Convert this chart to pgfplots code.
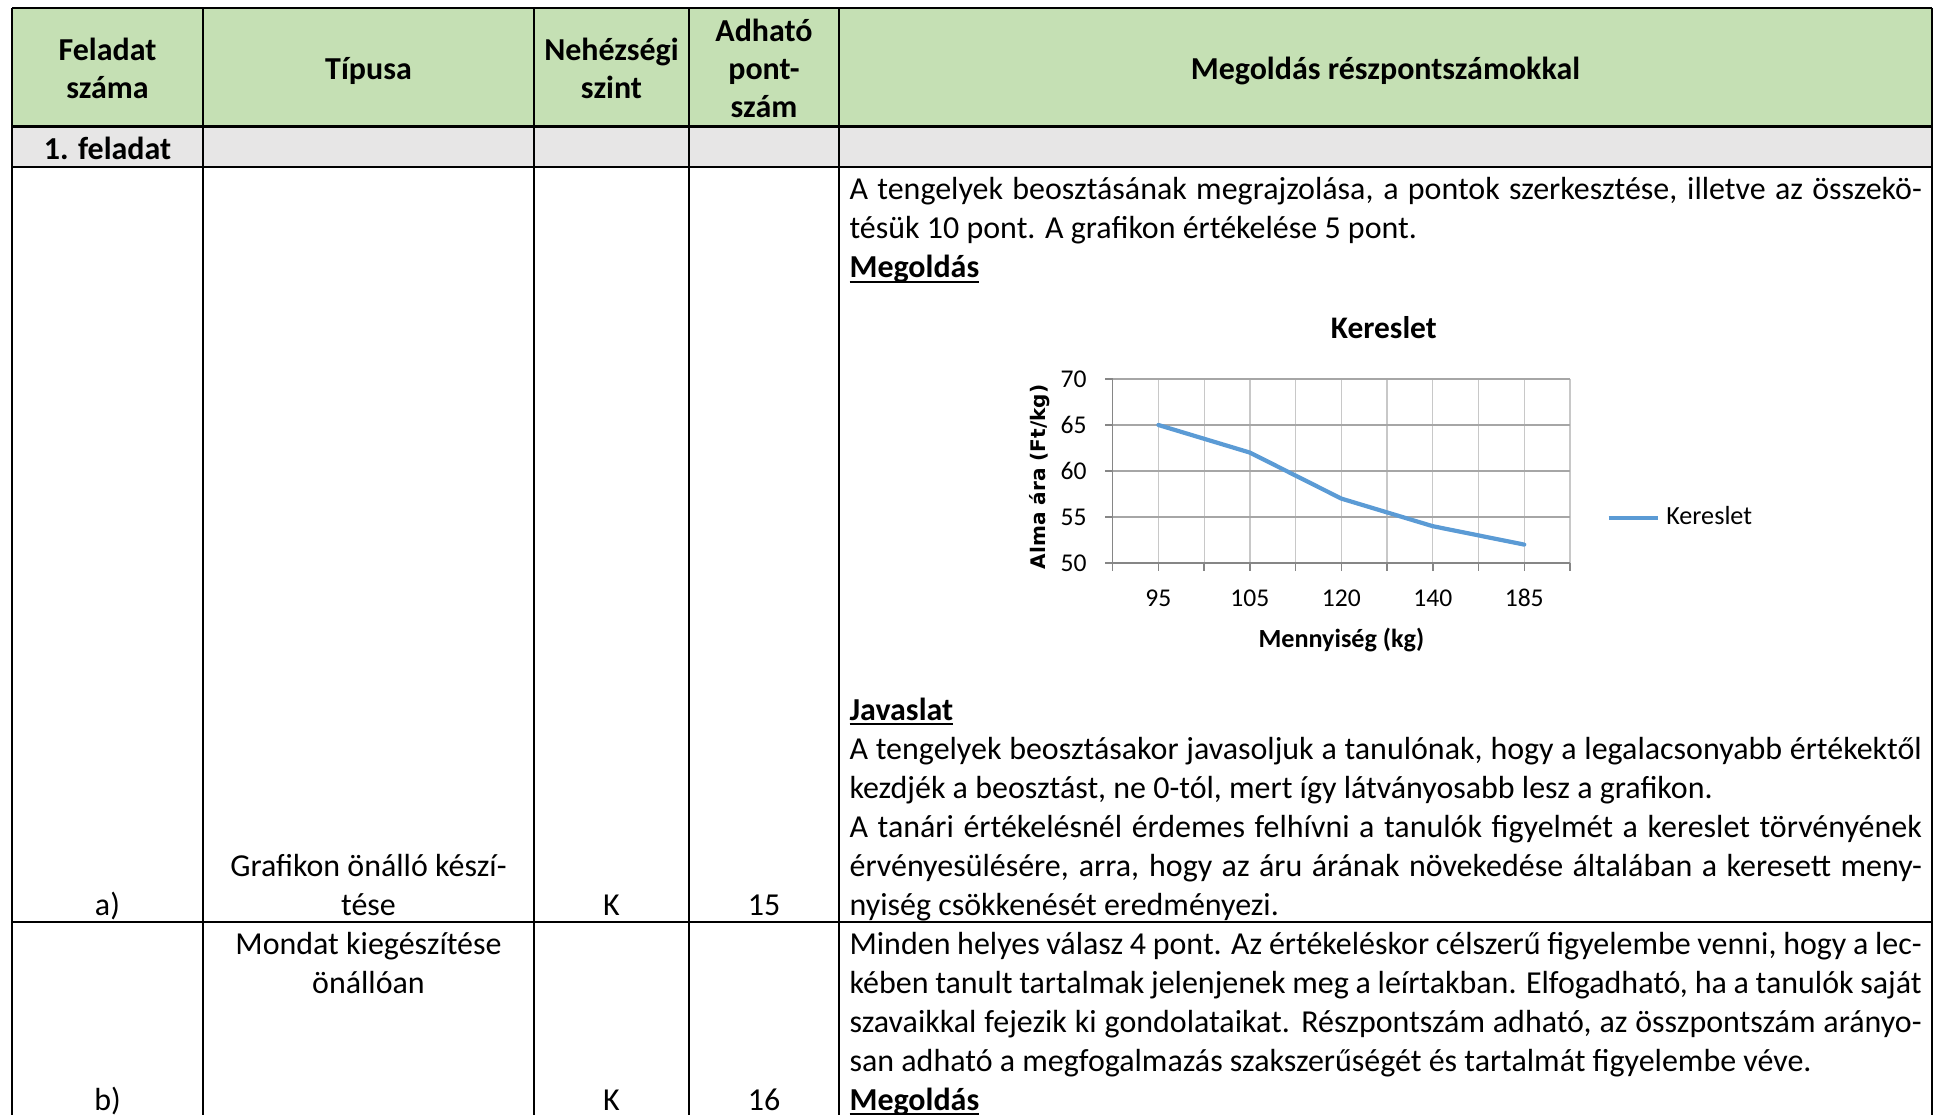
\documentclass[border=0pt]{standalone}
\usepackage{pgfplots}
\pgfplotsset{compat=1.18}
\usepackage{fontspec}
\setmainfont{Carlito}
\newfontfamily\dejavu{DejaVu Sans}
\definecolor{hdr}{HTML}{C5E0B4}
\definecolor{grayrow}{HTML}{E7E6E6}
\definecolor{xlblue}{HTML}{5B9BD5}
\definecolor{gridh}{HTML}{A6A6A6}
\definecolor{gridv}{HTML}{C8C8C8}
\definecolor{axgray}{HTML}{868686}
\newcommand{\jline}[2]{\node[anchor=base west,inner sep=0pt] at (849,#1+4) {\makebox[368.8pt][s]{#2}};}
\newcommand{\lline}[2]{\node[anchor=base west,inner sep=0pt] at (849,#1+4) {#2};}
\newcommand{\ctext}[3]{\node[anchor=base,inner sep=0pt] at (#1,#2+4) {#3};}
\newsavebox\ubox
\newcommand{\ub}[1]{\sbox\ubox{\textbf{#1}}\usebox\ubox\llap{\rule[-1.7pt]{\wd\ubox}{0.7pt}}}
\begin{document}
\fontsize{11pt}{13.4pt}\selectfont
\begin{tikzpicture}
\begin{scope}[x=0.344pt,y=-0.344pt]
\useasboundingbox (0,0) rectangle (1940,1115);
% fills
\fill[hdr] (12,8) rectangle (1932,126.5);
\fill[grayrow] (12,126.5) rectangle (1932,167);
% rules
\draw[line width=0.8pt] (12,8) -- (1932,8);
\draw[line width=0.8pt] (12,126.5) -- (1932,126.5);
\draw[line width=0.8pt] (12,167) -- (1932,167);
\draw[line width=0.8pt] (12,922) -- (1932,922);
\foreach \xx in {12,203,534,689,839,1932}{
  \draw[line width=0.7pt] (\xx,8) -- (\xx,1115);
}
% header
\ctext{107.5}{57}{\textbf{Feladat}}
\ctext{107.5}{95}{\textbf{száma}}
\ctext{368.5}{76}{\textbf{Típusa}}
\ctext{611.5}{57}{\textbf{Nehézségi}}
\ctext{611.5}{95}{\textbf{szint}}
\ctext{764}{38}{\textbf{Adható}}
\ctext{764}{76}{\textbf{pont-}}
\ctext{764}{114}{\textbf{szám}}
\ctext{1385.5}{76}{\textbf{Megoldás részpontszámokkal}}
\ctext{107.5}{156}{\textbf{1. feladat}}
% row a
\ctext{368.5}{872}{Grafikon önálló készí-}
\ctext{368.5}{911}{tése}
\ctext{107.5}{911}{a)}
\ctext{611.5}{911}{K}
\ctext{764}{911}{15}
\jline{196}{A tengelyek beosztásának megrajzolása, a pontok szerkesztése, illetve az összekö-}
\lline{235}{tésük 10 pont. A grafikon értékelése 5 pont.}
\lline{274}{\ub{Megoldás}}
\lline{716}{\ub{Javaslat}}
\jline{755}{A tengelyek beosztásakor javasoljuk a tanulónak, hogy a legalacsonyabb értékektől}
\lline{794}{kezdjék a beosztást, ne 0-tól, mert így látványosabb lesz a grafikon.}
\jline{833}{A tanári értékelésnél érdemes felhívni a tanulók figyelmét a kereslet törvényének}
\jline{872}{érvényesülésére, arra, hogy az áru árának növekedése általában a keresett meny-}
\lline{911}{nyiség csökkenését eredményezi.}
% row b
\ctext{368.5}{950}{Mondat kiegészítése}
\ctext{368.5}{989}{önállóan}
\ctext{107.5}{1106}{b)}
\ctext{611.5}{1106}{K}
\ctext{764}{1106}{16}
\jline{950}{Minden helyes válasz 4 pont. Az értékeléskor célszerű figyelembe venni, hogy a lec-}
\jline{989}{kében tanult tartalmak jelenjenek meg a leírtakban. Elfogadható, ha a tanulók saját}
\jline{1028}{szavaikkal fejezik ki gondolataikat. Részpontszám adható, az összpontszám arányo-}
\lline{1067}{san adható a megfogalmazás szakszerűségét és tartalmát figyelembe véve.}
\lline{1106}{\ub{Megoldás}}
\coordinate (po) at (1112.7,563);
\end{scope}
\begin{axis}[
  at={(po)}, anchor=south west,
  scale only axis, width=157.3pt, height=63.3pt,
  xmin=0.5, xmax=5.5, ymin=50, ymax=70,
  xtick={0.5,1,1.5,2,2.5,3,3.5,4,4.5,5,5.5},
  xticklabels={{},95,{},105,{},120,{},140,{},185,{}},
  ytick={50,55,60,65,70},
  axis lines*=left,
  axis line style={axgray, line width=0.5pt},
  xmajorgrids, ymajorgrids,
  x grid style={gridv, line width=0.45pt},
  y grid style={gridh, line width=0.45pt},
  tick align=outside,
  major tick length=2.6pt,
  tick style={axgray, line width=0.5pt},
  /pgf/number format/assume math mode=true,
  tick label style={font=\fontsize{8.8pt}{10pt}\selectfont, inner sep=0pt},
  xticklabel style={anchor=base, yshift=-12.5pt},
  yticklabel style={anchor=east, xshift=-6.2pt},
  title={Kereslet},
  title style={at={(axis description cs:0.593,1)}, anchor=base, yshift=7.9pt, font=\bfseries\fontsize{10.8pt}{13pt}\selectfont, inner sep=0pt},
  xlabel={Mennyiség (kg)},
  xlabel style={at={(axis description cs:0.5,0)}, anchor=base, yshift=-28.9pt, font=\bfseries\fontsize{9pt}{11pt}\selectfont, inner sep=0pt},
  ylabel={Alma ára (Ft/kg)},
  ylabel style={at={(axis description cs:0,0.5)}, anchor=center, yshift=25pt, xshift=-2pt, font=\dejavu\bfseries\fontsize{6.9pt}{8pt}\selectfont, inner sep=0pt},
  legend style={at={(axis description cs:1.080,0.245)}, anchor=west, draw=none, fill=none, inner sep=0pt, outer sep=0pt, font=\fontsize{9pt}{11pt}\selectfont, nodes={inner sep=0pt}},
  legend image code/.code={\draw[#1, line cap=butt] (0pt,0pt) -- (17pt,0pt);},
]
\addplot[xlblue, line width=1.45pt, line join=round, line cap=round, mark=none] coordinates {
  (1,65) (2,62) (3,57) (4,54) (5,52)
};
\addlegendentry{\kern2.1pt Kereslet}
\end{axis}
\end{tikzpicture}
\end{document}
